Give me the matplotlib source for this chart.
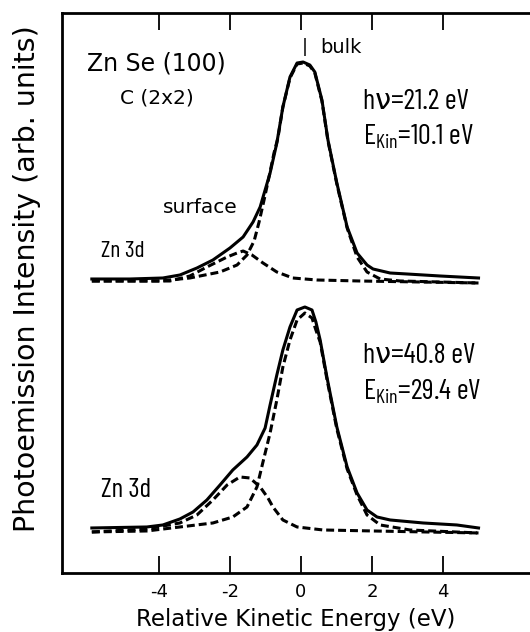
import matplotlib
matplotlib.use("Agg")
import matplotlib.pyplot as plt
from matplotlib import font_manager

# ZnSe(100) c(2x2) Zn 3d photoemission spectra
# x: relative kinetic energy (eV), y: intensity (arb. units)

# hv = 21.2 eV (upper spectrum)
top_total_x = [-5.89, -4.82, -3.89, -3.41, -2.93, -2.48, -2.00, -1.63, -1.35, -1.15, -1.01,
               -0.87, -0.68, -0.51, -0.31, -0.11, 0.06, 0.25, 0.39, 0.59, 0.76, 1.01, 1.30,
               1.58, 1.86, 2.03, 2.51, 2.99, 3.92, 5.00]
top_total_y = [294, 294, 295, 298, 305, 313, 325, 336, 351, 366, 383,
               400, 430, 466, 496, 510, 511, 508, 501, 473, 433, 390, 346,
               320, 308, 304, 300, 299, 297, 295]

top_bulk_x = [-5.89, -3.97, -3.13, -2.28, -1.80, -1.52, -1.32, -1.18, -1.04, -0.90, -0.76,
              -0.65, -0.51, -0.31, -0.11, 0.06, 0.25, 0.39, 0.59, 0.76, 1.01, 1.30, 1.58,
              1.86, 2.23, 2.79, 3.92, 5.00]
top_bulk_y = [292, 292, 295, 301, 308, 318, 332, 351, 373, 396, 420,
              435, 466, 495, 509, 510, 507, 500, 472, 432, 389, 345, 316,
              301, 294, 292, 291, 290]

top_surf_x = [-5.89, -3.69, -3.13, -2.65, -2.08, -1.80, -1.63, -1.38, -1.07, -0.68, -0.23,
              0.45, 1.66, 3.35, 5.00]
top_surf_y = [292, 292, 297, 306, 316, 320, 322, 318, 310, 301, 295,
              293, 292, 291, 290]

# hv = 40.8 eV (lower spectrum)
bot_total_x = [-5.89, -4.34, -3.89, -3.41, -3.04, -2.65, -2.28, -1.92, -1.52, -1.24, -1.01,
               -0.87, -0.68, -0.51, -0.31, -0.11, 0.11, 0.31, 0.42, 0.54, 0.73, 1.01, 1.30,
               1.58, 1.86, 2.14, 2.51, 3.44, 4.39, 5.00]
bot_total_y = [45, 46, 48, 54, 61, 73, 88, 103, 116, 128, 145,
               168, 198, 223, 246, 263, 266, 263, 251, 233, 196, 146, 106,
               80, 63, 56, 53, 50, 48, 45]

bot_bulk_x = [-5.89, -4.34, -3.41, -2.48, -1.92, -1.52, -1.24, -1.07, -0.87, -0.68, -0.51,
              -0.31, -0.11, 0.11, 0.31, 0.42, 0.54, 0.73, 1.01, 1.30, 1.58, 1.86, 2.23,
              3.07, 5.00]
bot_bulk_y = [41, 42, 46, 50, 56, 66, 86, 111, 140, 173, 206,
              233, 253, 260, 255, 243, 231, 194, 144, 104, 78, 58, 48,
              43, 40]

bot_surf_x = [-5.89, -4.34, -3.41, -2.93, -2.48, -2.08, -1.72, -1.44, -1.15, -0.93, -0.79,
              -0.51, -0.11, 0.62, 2.03, 5.00]
bot_surf_y = [41, 44, 50, 58, 73, 88, 96, 95, 86, 75, 66,
              53, 46, 43, 42, 40]

xticks = [-4, -2, 0, 2, 4]

# a condensed face for the hand-lettered labels, if one is installed
installed = {f.name for f in font_manager.fontManager.ttflist}
narrow_name = 'DejaVu Sans'
for name in ['Barlow Condensed', 'Roboto Condensed', 'Liberation Sans Narrow',
             'Barlow Semi Condensed']:
    if name in installed:
        narrow_name = name
        break
narrow = [narrow_name, 'DejaVu Sans']
plt.rcParams['mathtext.fontset'] = 'custom'
plt.rcParams['mathtext.rm'] = narrow_name

fig = plt.figure(figsize=(5.30, 6.32), dpi=100)
ax = fig.add_axes([0.117, 0.0934, 0.881, 0.886])

lw = 2.2
dash = (2.6, 1.3)
ax.plot(top_total_x, top_total_y, color='black', lw=lw)
ax.plot(top_bulk_x, top_bulk_y, color='black', lw=lw, dashes=dash)
ax.plot(top_surf_x, top_surf_y, color='black', lw=lw, dashes=dash)
ax.plot(bot_total_x, bot_total_y, color='black', lw=lw)
ax.plot(bot_bulk_x, bot_bulk_y, color='black', lw=lw, dashes=dash)
ax.plot(bot_surf_x, bot_surf_y, color='black', lw=lw, dashes=dash)

ax.set_xlim(-6.73, 6.42)
ax.set_ylim(0, 560)
ax.set_xticks(xticks)
ax.set_xticklabels(['-4', '-2', '0', '2', '4'])
ax.set_yticks([])
ax.tick_params(axis='x', direction='in', length=12, width=1.3, top=True,
               labeltop=False, labelsize=13, pad=7)
for s in ['left', 'bottom', 'top']:
    ax.spines[s].set_linewidth(2.0)
ax.spines['right'].set_visible(False)

ax.set_xlabel('Relative Kinetic Energy (eV)', fontsize=16.5, labelpad=5)
ax.set_ylabel('Photoemission Intensity (arb. units)', fontsize=20.5)
ax.yaxis.set_label_coords(-0.045, 0.525)

# annotations
ax.text(-6.03, 510, 'Zn Se (100)', fontsize=17, va='center', ha='left')
ax.text(-5.10, 475, 'C (2x2)', fontsize=14.5, va='center', ha='left')
ax.text(-3.90, 366, 'surface', fontsize=14.5, va='center', ha='left')
ax.text(-5.62, 321, 'Zn 3d', fontsize=17, va='center', ha='left', family=narrow)
ax.text(-5.62, 83, 'Zn 3d', fontsize=19.5, va='center', ha='left', family=narrow)
ax.text(0.11, 526, '|', fontsize=13, va='center', ha='center')
ax.text(0.55, 526, 'bulk', fontsize=14, va='center', ha='left')

ax.text(1.75, 471, 'h\u03bd=21.2 eV', fontsize=20.5, va='center', ha='left', family=narrow)
ax.text(1.75, 436, r'E$_{\rm Kin}$=10.1 eV', fontsize=20.5, va='center', ha='left', family=narrow)
ax.text(1.75, 217, 'h\u03bd=40.8 eV', fontsize=20.5, va='center', ha='left', family=narrow)
ax.text(1.75, 181, r'E$_{\rm Kin}$=29.4 eV', fontsize=20.5, va='center', ha='left', family=narrow)

fig.savefig('out.png', dpi=100)
